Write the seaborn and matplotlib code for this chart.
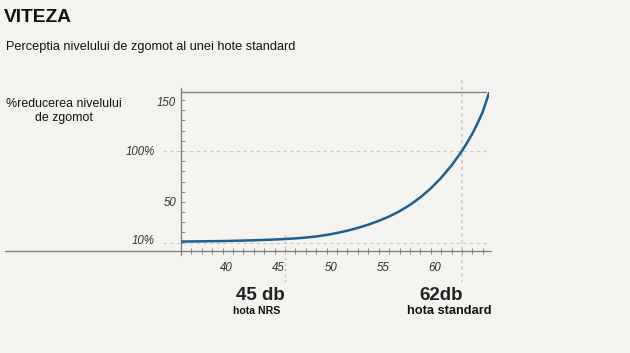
import matplotlib
matplotlib.use("Agg")
import matplotlib.pyplot as plt
import seaborn as sns
import pandas as pd
from matplotlib.ticker import MultipleLocator, FixedLocator

# ---- data ----
db_level = [35, 36, 37, 38, 39, 40, 41, 42, 43, 44, 45, 46, 47, 48, 49, 50,
            51, 52, 53, 54, 55, 56, 57, 58, 59, 60, 61, 62, 62.5, 63, 63.5, 64, 64.6]
noise_pct = [11.0, 11.1, 11.2, 11.35, 11.5, 11.7, 11.95, 12.25, 12.6, 13.0, 13.5, 14.1, 14.9, 16.0, 17.5, 19.4,
             21.7, 24.4, 27.6, 31.3, 35.6, 40.8, 47.0, 54.4, 63.2, 73.6, 85.8, 100.0, 108.2, 117.0, 127.3, 138.5, 157.0]
x_ticks = [40, 45, 50, 55, 60]
y_ticks = [10, 50, 100, 150]
y_tick_labels = ["10%", "50", "100%", "150"]
marker_db = [45, 62]
marker_big = ["45 db", "62db"]
marker_small = ["hota NRS", "hota standard"]

title = "VITEZA"
subtitle = "Perceptia nivelului de zgomot al unei hote standard"
ylabel = "%reducerea nivelului\nde zgomot"

BG = "#f4f3f0"
LINE = "#1d5f8e"
AX = "#7a7a7a"
GRID = "#c9c9c9"

sns.set_theme(style="white")
plt.rcParams["font.family"] = ["Liberation Sans", "DejaVu Sans"]

df = pd.DataFrame({"db": db_level, "pct": noise_pct})

fig = plt.figure(figsize=(6.3, 3.53), dpi=100)
fig.patch.set_facecolor(BG)
W, H = 630, 353
left, right, top, bottom = 181, 489, 92, 251
ax = fig.add_axes([left / W, 1 - bottom / H, (right - left) / W, (bottom - top) / H])
ax.set_facecolor(BG)

sns.lineplot(data=df, x="db", y="pct", ax=ax, color=LINE, linewidth=1.8, zorder=5)

ax.set_xlim(35, 64.6)
ax.set_ylim(1.7, 158)
for s in ax.spines.values():
    s.set_visible(False)
ax.set_xlabel("")
ax.set_ylabel("")

# ticks
ax.xaxis.set_major_locator(FixedLocator(x_ticks))
ax.xaxis.set_minor_locator(MultipleLocator(1))
ax.yaxis.set_major_locator(FixedLocator(y_ticks))
ax.yaxis.set_minor_locator(MultipleLocator(10))
ax.set_xticklabels([str(v) for v in x_ticks])
ax.set_yticklabels([])
ax.tick_params(axis="x", which="both", direction="inout", length=4, width=0.6,
               color=AX, bottom=True, pad=6)
ax.tick_params(axis="y", which="both", direction="in", length=3, width=0.6,
               color=AX, left=True)
for lab in ax.get_xticklabels():
    lab.set_fontstyle("italic")
    lab.set_fontsize(8.3)
    lab.set_color("#333333")
    lab.set_horizontalalignment("right")

# y tick labels (percent labels sit further left, as in the original)
blend_y = ax.get_yaxis_transform()
y_label_x = {"150": -5 / 308, "50": -5 / 308, "100%": -26 / 308, "10%": -26 / 308}
y_label_dy = {"150": -3, "50": -1, "100%": -0.5, "10%": 2}
for yv, lab in zip(y_ticks, y_tick_labels):
    ax.text(y_label_x[lab], yv + y_label_dy[lab], lab, transform=blend_y, ha="right", va="center",
            fontsize=8.3, fontstyle="italic", color="#333333", clip_on=False)

# axis frame lines
tr = ax.transAxes
ax.plot([0, 0], [-0.025, 1.025], transform=tr, color=AX, lw=0.9, clip_on=False, zorder=3)
ax.plot([0, 0.99], [1, 1], transform=tr, color=AX, lw=0.9, clip_on=False, zorder=3)
ax.plot([-0.57, 1.006], [0, 0], transform=tr, color=AX, lw=0.9, clip_on=False, zorder=3)

# dotted reference lines
for yv in [10, 100]:
    ax.plot([-0.059, 1.0], [yv, yv], transform=blend_y, color=GRID, lw=0.8,
            ls=(0, (3, 3)), clip_on=False, zorder=1)
blend_x = ax.get_xaxis_transform()
hgt = bottom - top
ax.plot([marker_db[0], marker_db[0]], [(bottom - 235) / hgt, (bottom - 285) / hgt],
        transform=blend_x, color=GRID, lw=1.0, ls=(0, (2, 2)), clip_on=False, zorder=1)
ax.plot([marker_db[1], marker_db[1]], [(bottom - 80) / hgt, (bottom - 282) / hgt],
        transform=blend_x, color=GRID, lw=1.2, ls=(0, (2, 2)), clip_on=False, zorder=1)

# annotations below axis
for xv, big, dx in zip(marker_db, marker_big, [-2.35, -2.0]):
    ax.text(xv + dx, (bottom - 295) / hgt, big, transform=blend_x,
            ha="center", va="center", fontsize=13.5, fontweight="bold", color="#222222")
for xv, small, dx, fs in zip(marker_db, marker_small, [-2.7, -1.25], [7.6, 9.2]):
    ax.text(xv + dx, (bottom - 311) / hgt, small, transform=blend_x,
            ha="center", va="center", fontsize=fs, fontweight="bold", color="#111111")

# titles
fig.text(4 / W, 1 - 18 / H, title, ha="left", va="center", fontsize=13.8,
         fontweight="bold", color="#111111")
fig.text(6 / W, 1 - 47 / H, subtitle, ha="left", va="center", fontsize=9.2, color="#111111")
fig.text(64 / W, 1 - 111 / H, ylabel, ha="center", va="center", fontsize=8.9,
         color="#111111", linespacing=1.3)

fig.savefig("out.png", dpi=100, facecolor=BG)
